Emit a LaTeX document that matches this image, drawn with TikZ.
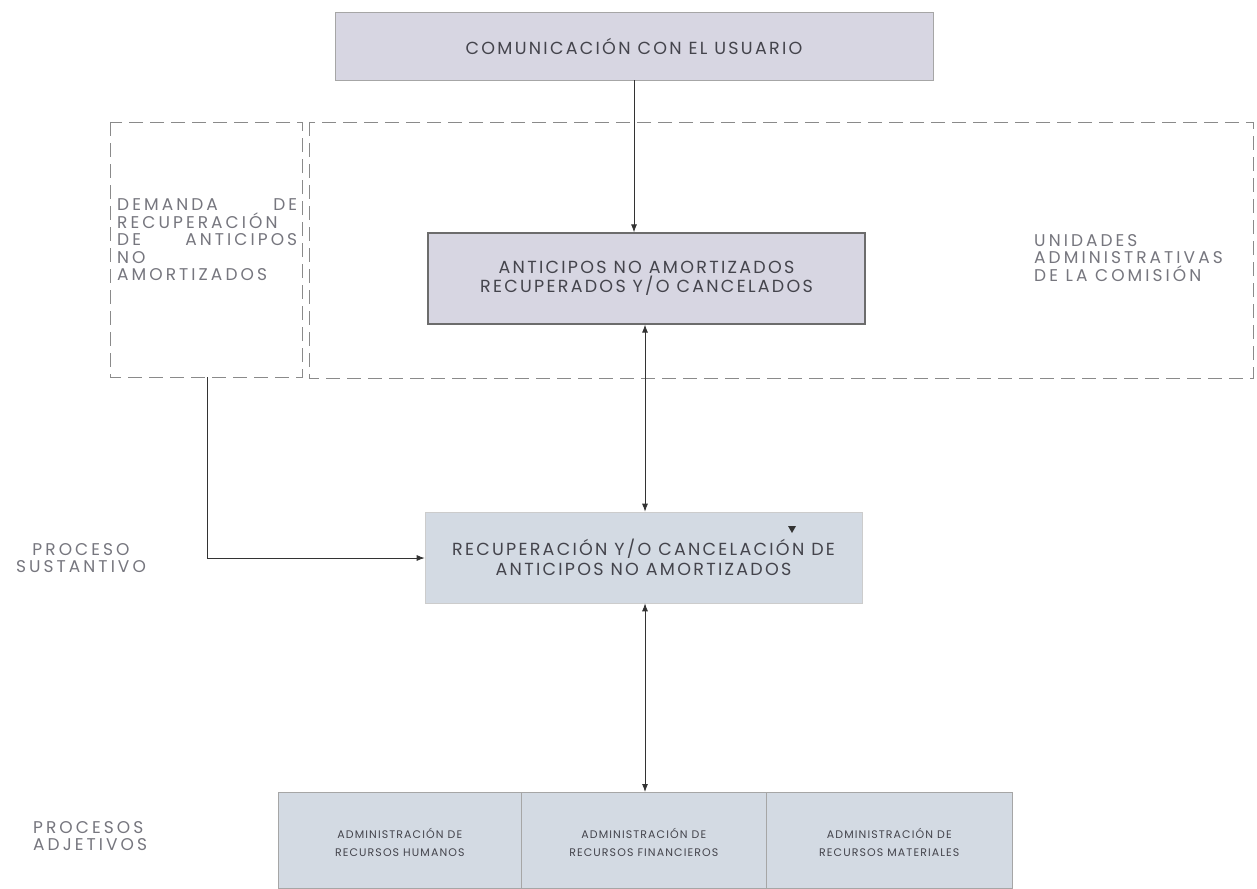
\documentclass[tikz,border=0pt]{standalone}
\usepackage{fontspec}
\setmainfont{Poppins}
\newfontfamily\boxfont[LetterSpace=13]{Poppins}
\newfontfamily\sidefont[LetterSpace=18]{Poppins}
\newfontfamily\smallfont[LetterSpace=10]{Poppins}
\usetikzlibrary{arrows.meta,positioning}
\definecolor{boxA}{HTML}{D7D6E2}
\definecolor{boxB}{HTML}{D3DAE3}
\definecolor{txtD}{HTML}{44444C}
\definecolor{txtL}{HTML}{76767E}
\definecolor{dashc}{HTML}{8A8A8A}
\tikzset{
  procbox/.style={draw=gray!70, line width=0.6pt, inner sep=0pt},
  boxtext/.style={text=txtD, font=\boxfont\fontsize{17.5}{19.5}\selectfont, align=center},
  smalltext/.style={text=txtD, font=\smallfont\fontsize{11}{18}\selectfont, align=center},
  sidetext/.style={text=txtL, font=\sidefont\fontsize{17}{17.5}\selectfont, inner sep=0pt},
  dashbox/.style={draw=dashc, line width=0.8pt, dash pattern=on 14pt off 7pt},
  arr/.style={draw=black!80, line width=0.9pt, -{Latex[length=8pt,width=6pt]}},
  darr/.style={draw=black!80, line width=0.9pt, {Latex[length=8pt,width=6pt]}-{Latex[length=8pt,width=6pt]}}
}
\begin{document}
\begin{tikzpicture}[x=1pt,y=-1pt]
\useasboundingbox[fill=white] (0,0) rectangle (1257,888);
% dashed regions
\draw[dashbox] (110,122) rectangle (302,377);
\draw[dashbox] (309,122) rectangle (1253,378);
% boxes
\node[procbox, fill=boxA, minimum width=598pt, minimum height=68pt] (com) at (634,46) {};
\node[boxtext] (comt) at (com.center) {COMUNICACIÓN CON EL USUARIO};
\node[draw=gray!85!black, line width=1.2pt, fill=boxA, minimum width=437pt, minimum height=91pt, inner sep=0pt] (ant) at (646.5,278.5) {};
\node[boxtext] (antt) at (ant.center) {ANTICIPOS NO AMORTIZADOS\\RECUPERADOS Y/O CANCELADOS};
\node[procbox, draw=gray!40, fill=boxB, minimum width=437pt, minimum height=91pt] (rec) at (643.5,557.5) {};
\node[boxtext] (rect) at (rec.center) {RECUPERACIÓN Y/O CANCELACIÓN DE\\ANTICIPOS NO AMORTIZADOS};
\node[procbox, fill=boxB, minimum width=243pt, minimum height=96pt, anchor=north west] (rh) at (278,792) {};
\node[procbox, fill=boxB, minimum width=245pt, minimum height=96pt, anchor=north west] (rf) at (521,792) {};
\node[procbox, fill=boxB, minimum width=246pt, minimum height=96pt, anchor=north west] (rm) at (766,792) {};
\node[smalltext] (rht) at ([yshift=-2pt]rh.center) {ADMINISTRACIÓN DE\\RECURSOS HUMANOS};
\node[smalltext] (rft) at ([yshift=-2pt]rf.center) {ADMINISTRACIÓN DE\\RECURSOS FINANCIEROS};
\node[smalltext] (rmt) at ([yshift=-2pt]rm.center) {ADMINISTRACIÓN DE\\RECURSOS MATERIALES};
% side labels
\node[sidetext, text width=180pt, align=left, anchor=west] (dem) at (117,240)
  {DEMANDA\hfill DE\\RECUPERACIÓN\\DE\hfill ANTICIPOS\\NO\\AMORTIZADOS};
\node[sidetext, align=left, anchor=west] (uni) at (1034,258)
  {UNIDADES\\ADMINISTRATIVAS\\DE LA COMISIÓN};
\node[sidetext, align=center] (sus) at (81,558) {PROCESO\\SUSTANTIVO};
\node[sidetext, align=left, anchor=west] (adj) at (33,836) {PROCESOS\\ADJETIVOS};
% connectors
\draw[arr] (com.south -| 634,0) -- (ant.north -| 634,0);
\draw[darr] (ant.south -| 645,0) -- (rec.north -| 645,0);
\draw[darr] (rec.south -| 645,0) -- (rf.north -| 645,0);
\coordinate (dstart) at (207,377);
\coordinate (dcorner) at (207,558);
\draw[arr] (dstart) -- (dcorner) -- (rec.west |- dcorner);
% stray small arrowhead
\fill[black!80] (788,526) -- (796,526) -- (792,533) -- cycle;
\end{tikzpicture}
\end{document}
